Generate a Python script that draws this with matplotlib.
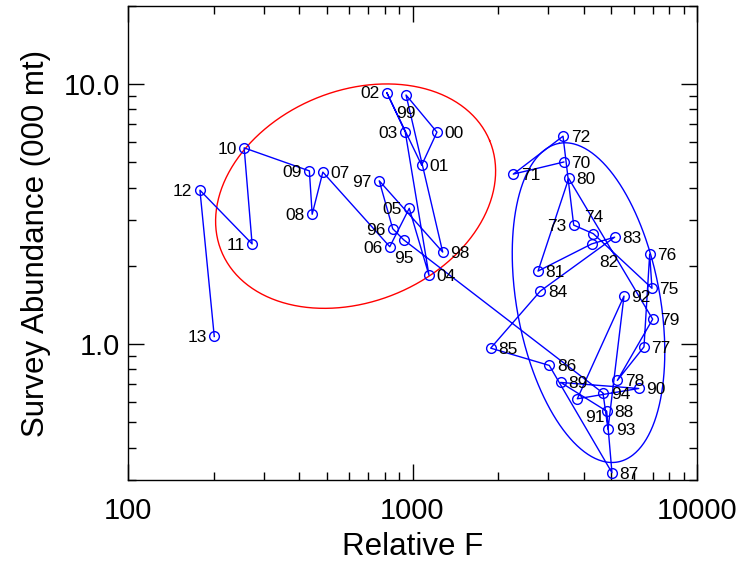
import matplotlib
matplotlib.use('Agg')
import matplotlib.pyplot as plt
import numpy as np
from matplotlib.ticker import FixedLocator, NullFormatter

plt.rcParams['font.family'] = ['Liberation Sans', 'DejaVu Sans']

# ---- data ----
years = list(range(1970, 2014))
relative_f = [3401, 2261, 3381, 3686, 4321, 6946, 6818, 6511, 5247, 6986,
              3540, 2762, 4265, 5136, 2814, 1883, 3025, 5025, 4814, 3318,
              6239, 3796, 5538, 4866, 4673, 931, 852, 764, 1277, 949,
              1219, 1077, 812, 943, 1143, 974, 832, 484, 444, 434,
              256, 273, 179, 201]
abundance = [5.02, 4.51, 6.31, 2.87, 2.66, 1.64, 2.22, 0.976, 0.725, 1.247,
             4.34, 1.91, 2.43, 2.58, 1.60, 0.965, 0.828, 0.320, 0.552, 0.712,
             0.675, 0.616, 1.53, 0.471, 0.648, 2.52, 2.78, 4.25, 2.26, 9.09,
             6.54, 4.88, 9.29, 6.55, 1.84, 3.33, 2.37, 4.59, 3.16, 4.64,
             5.69, 2.43, 3.91, 1.07]

x_ticks = [100, 1000, 10000]
x_ticklabels = ['100', '1000', '10000']
y_ticks = [1, 10]
y_ticklabels = ['1.0', '10.0']

# ellipses in log10 space: centre (data units) and conjugate semi-diameters (decades)
red_center = (631, 3.71)
red_vecs = ((0.4712, 0.2136), (-0.1420, 0.3752))
blue_center = (4156, 1.444)
blue_vecs = ((-0.1028, 0.6131), (-0.2476, -0.0497))

# label placement per year
left_labels = {1973, 1996, 1997, 2002, 2003, 2005, 2006, 2008, 2009, 2010, 2011, 2012, 2013}
below_labels = {1995, 1999}
above_labels = {1974}
below_right_labels = {1982, 1991}

# ---- figure ----
fig = plt.figure(figsize=(7.42, 5.64), dpi=100)
ax = fig.add_axes([128 / 742, 84 / 564, 569 / 742, 474 / 564])
ax.set_xscale('log')
ax.set_yscale('log')
ax.set_xlim(100, 10000)
ax.set_ylim(0.3, 20)

t = np.linspace(0, 2 * np.pi, 400)
for (cx, cy), (v1, v2), col in [(red_center, red_vecs, 'red'),
                                (blue_center, blue_vecs, 'blue')]:
    lx = np.log10(cx) + v1[0] * np.cos(t) + v2[0] * np.sin(t)
    ly = np.log10(cy) + v1[1] * np.cos(t) + v2[1] * np.sin(t)
    ax.plot(10 ** lx, 10 ** ly, color=col, lw=1.0, zorder=1)

ax.plot(relative_f, abundance, '-', color='blue', lw=1.0, marker='o',
        mfc='none', mec='blue', ms=7, mew=1.0, zorder=2)

for yr, xv, yv in zip(years, relative_f, abundance):
    lab = f"{yr % 100:02d}"
    if yr in left_labels:
        off, ha = (-5.5, -1), 'right'
    elif yr in below_labels:
        off, ha = (0, -13.5), 'center'
    elif yr in above_labels:
        off, ha = (0, 12), 'center'
    elif yr in below_right_labels:
        off, ha = (12.5, -13.5), 'center'
    else:
        off, ha = (5.5, -1), 'left'
    ax.annotate(lab, (xv, yv), xytext=off, textcoords='offset points',
                ha=ha, va='center', fontsize=12.5, color='black', zorder=3)

ax.xaxis.set_major_locator(FixedLocator(x_ticks))
ax.set_xticklabels(x_ticklabels)
ax.yaxis.set_major_locator(FixedLocator(y_ticks))
ax.set_yticklabels(y_ticklabels)
ax.xaxis.set_minor_formatter(NullFormatter())
ax.yaxis.set_minor_formatter(NullFormatter())

ax.tick_params(which='both', direction='in', top=True, right=True, width=1.0)
ax.tick_params(which='major', length=11.5, labelsize=21)
ax.tick_params(which='minor', length=5.8)
ax.tick_params(axis='x', which='major', pad=12)
ax.tick_params(axis='y', which='major', pad=6)
for s in ax.spines.values():
    s.set_linewidth(1.0)

ax.set_xlabel('Relative F', fontsize=22.5, labelpad=5)
ax.set_ylabel('Survey Abundance (000 mt)', fontsize=22.5, labelpad=9)

fig.savefig('out.png', dpi=100)
